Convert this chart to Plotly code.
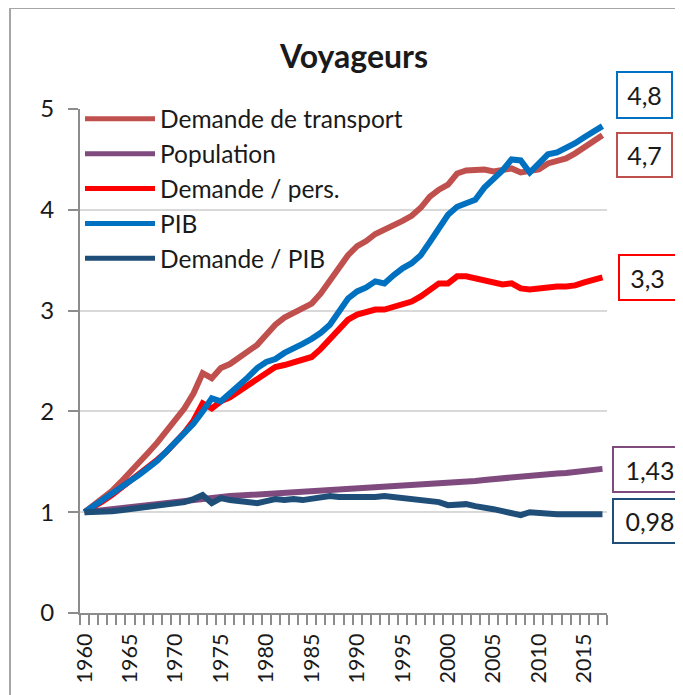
import plotly.graph_objects as go

years = list(range(1960, 2018))

demande_transport = [1.00, 1.07, 1.14, 1.21, 1.30, 1.39, 1.49, 1.59, 1.69, 1.80,
                     1.91, 2.03, 2.18, 2.38, 2.33, 2.43, 2.47, 2.53, 2.60, 2.66,
                     2.76, 2.86, 2.93, 2.98, 3.03, 3.07, 3.17, 3.30, 3.44, 3.55,
                     3.64, 3.69, 3.76, 3.80, 3.85, 3.89, 3.94, 4.02, 4.13, 4.20,
                     4.25, 4.36, 4.39, 4.40, 4.40, 4.38, 4.40, 4.41, 4.37, 4.38,
                     4.40, 4.46, 4.49, 4.51, 4.56, 4.62, 4.68, 4.74]

population = [1.00, 1.01, 1.03, 1.04, 1.05, 1.06, 1.07, 1.08, 1.09, 1.10,
              1.11, 1.12, 1.13, 1.14, 1.15, 1.155, 1.16, 1.165, 1.17, 1.175,
              1.18, 1.185, 1.19, 1.195, 1.20, 1.205, 1.21, 1.215, 1.22, 1.225,
              1.23, 1.235, 1.24, 1.245, 1.25, 1.255, 1.26, 1.265, 1.27, 1.275,
              1.28, 1.29, 1.30, 1.31, 1.32, 1.33, 1.34, 1.35, 1.355, 1.36,
              1.37, 1.38, 1.385, 1.39, 1.40, 1.41, 1.42, 1.43]

demande_pers = [1.00, 1.05, 1.11, 1.17, 1.24, 1.30, 1.37, 1.44, 1.52, 1.60,
                1.69, 1.79, 1.91, 2.08, 2.03, 2.10, 2.14, 2.20, 2.26, 2.32,
                2.39, 2.44, 2.46, 2.49, 2.51, 2.54, 2.62, 2.71, 2.82, 2.91,
                2.96, 2.99, 3.01, 3.01, 3.04, 3.06, 3.09, 3.14, 3.21, 3.27,
                3.27, 3.34, 3.34, 3.32, 3.30, 3.27, 3.26, 3.27, 3.22, 3.21,
                3.22, 3.24, 3.24, 3.24, 3.25, 3.28, 3.31, 3.33]

pib = [1.00, 1.06, 1.12, 1.18, 1.25, 1.31, 1.37, 1.44, 1.51, 1.60,
       1.69, 1.78, 1.88, 2.00, 2.13, 2.10, 2.19, 2.26, 2.34, 2.43,
       2.49, 2.52, 2.58, 2.62, 2.67, 2.72, 2.78, 2.86, 3.00, 3.12,
       3.19, 3.23, 3.29, 3.27, 3.35, 3.42, 3.47, 3.55, 3.68, 3.82,
       3.95, 4.03, 4.07, 4.10, 4.22, 4.30, 4.39, 4.50, 4.49, 4.37,
       4.46, 4.55, 4.57, 4.61, 4.66, 4.72, 4.78, 4.83]

demande_pib = [1.00, 1.00, 1.00, 1.01, 1.02, 1.03, 1.04, 1.06, 1.07, 1.07,
               1.08, 1.10, 1.13, 1.17, 1.09, 1.14, 1.12, 1.11, 1.10, 1.09,
               1.11, 1.13, 1.12, 1.13, 1.12, 1.13, 1.14, 1.16, 1.15, 1.15,
               1.14, 1.14, 1.15, 1.16, 1.15, 1.14, 1.13, 1.13, 1.12, 1.10,
               1.07, 1.08, 1.08, 1.06, 1.05, 1.03, 1.01, 0.99, 0.97, 1.00,
               0.99, 0.98, 0.98, 0.98, 0.98, 0.98, 0.99, 0.98]

series_names = ["Demande de transport", "Population", "Demande / pers.", "PIB", "Demande / PIB"]
series_values = [demande_transport, population, demande_pers, pib, demande_pib]
series_colors = ["#C0504D", "#7F4A7E", "#FF0000", "#0070C0", "#1F4E79"]

end_labels = ["4,7", "1,43", "3,3", "4,8", "0,98"]

x_tick_labels = [str(y) for y in range(1960, 2016, 5)]
y_tick_labels = ["0", "1", "2", "3", "4", "5"]

FONT = "Lato, Carlito, Calibri, sans-serif"
TXT = "#1A1A1A"
AXC = "#8C8C8C"

# page body has an 8px margin: figure coordinates are reference - 8
OFF = 8
FW, FH = 683 - OFF, 695 - OFF
L, W, T, B = 80 - OFF, 527, 109 - OFF, 613 - OFF
H = B - T


def px(x):
    return (x - OFF - L) / W


def py(y):
    return (B - (y - OFF)) / H


fig = go.Figure()
for name, vals, col in zip(series_names, series_values, series_colors):
    fig.add_trace(go.Scatter(x=years, y=vals, name=name, mode="lines",
                             line=dict(color=col, width=6)))

box_geo = {  # label -> (cx, cy, w, h) in reference pixels
    "4,8": (644.5, 95, 53, 44),
    "4,7": (644.5, 155, 53, 42),
    "3,3": (647.5, 277.5, 55, 43),
    "1,43": (650, 469.5, 72, 43),
    "0,98": (650, 521, 72, 42),
}
for lab, col in zip(end_labels, series_colors):
    cx, cy, w, h = box_geo[lab]
    fig.add_annotation(xref="paper", yref="paper", x=px(cx), y=py(cy),
                       xanchor="center", yanchor="middle", showarrow=False,
                       text=lab, font=dict(family=FONT, size=25, color=TXT),
                       bordercolor=col, borderwidth=2, borderpad=0,
                       width=w, height=h, bgcolor="white")

# outer chart frame
fig.add_shape(type="rect", xref="paper", yref="paper",
              x0=px(10), x1=px(720), y0=py(720), y1=py(8),
              line=dict(color="#A6A6A6", width=2), layer="below")

fig.update_layout(
    width=FW, height=FH,
    margin=dict(l=L, r=FW - L - W, t=T, b=FH - B, autoexpand=False),
    paper_bgcolor="white", plot_bgcolor="white",
    font=dict(family=FONT, size=24, color=TXT),
    title=dict(text="<b>Voyageurs</b>", x=px(354), xref="paper", xanchor="center",
               y=1 - (57 - OFF) / FH, yref="container", yanchor="middle",
               font=dict(family=FONT, size=32, color=TXT)),
    showlegend=True,
    legend=dict(x=0.0, y=1.025, xanchor="left", yanchor="top",
                bgcolor="rgba(0,0,0,0)", itemwidth=70,
                font=dict(family=FONT, size=24.5, color=TXT),
                tracegroupgap=0, itemsizing="constant"),
    xaxis=dict(range=[1959.5, 2017.5], tickmode="array", automargin=False,
               tickvals=list(range(1960, 2016, 5)), ticktext=x_tick_labels,
               tickangle=-90, ticks="outside", ticklen=10,
               tickcolor="rgba(0,0,0,0)",
               tickfont=dict(family=FONT, size=21.5, color=TXT),
               showgrid=False, zeroline=False,
               showline=True, linecolor=AXC, linewidth=2,
               minor=dict(tickmode="array",
                          tickvals=[1959.5 + i for i in range(59)],
                          ticks="outside", ticklen=10, tickcolor=AXC, tickwidth=2,
                          showgrid=False)),
    yaxis=dict(range=[0, 5], tickmode="array", tickvals=[0, 1, 2, 3, 4, 5],
               automargin=False,
               ticktext=y_tick_labels, ticks="outside", ticklen=10,
               tickcolor=AXC, tickwidth=2,
               tickfont=dict(family=FONT, size=24, color=TXT),
               ticklabelstandoff=9,
               showgrid=True, gridcolor="#D9D9D9", gridwidth=2,
               zeroline=False, showline=True, linecolor=AXC, linewidth=2),
)

fig.write_html("out.html")
